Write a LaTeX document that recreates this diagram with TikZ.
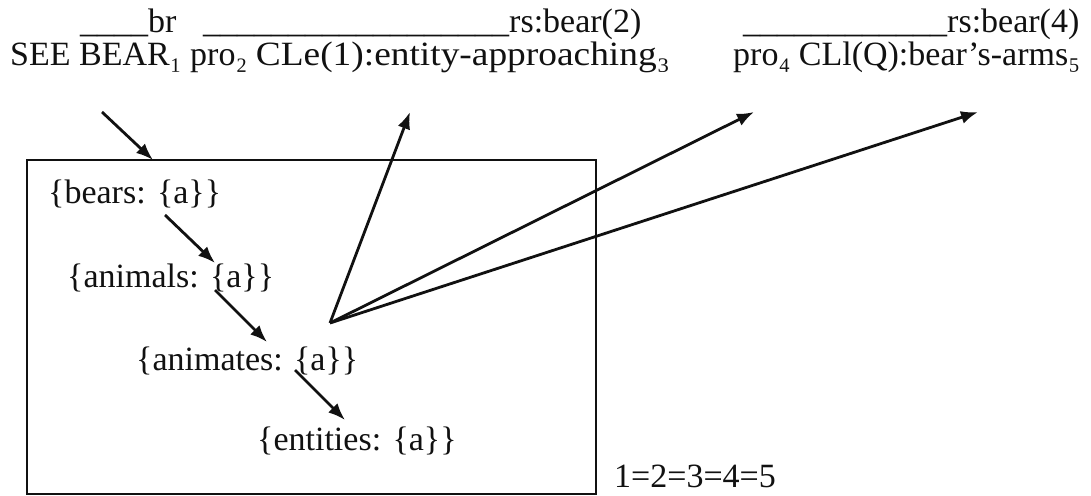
\documentclass[tikz,border=0pt]{standalone}
\usepackage{fontspec}
\setmainfont{Liberation Serif}
\usepackage{tikz}
\usetikzlibrary{arrows.meta}
\definecolor{Ink}{HTML}{111111}
\tikzset{
  gloss/.style={anchor=base west,inner sep=0pt,text=Ink,font=\fontsize{34}{40}\selectfont},
  setnode/.style={anchor=base west,inner sep=0pt,text=Ink,font=\fontsize{34}{40}\selectfont},
  frame/.style={draw=Ink,line width=2.4pt},
  link/.style={-{Latex[length=17pt,width=13pt]},draw=Ink,line width=2.8pt}
}
\newcommand{\blank}[1]{\foreach \k in {1,...,#1}{\_}}
\newcommand{\wide}[1]{{\addfontfeatures{FakeStretch=1.1}#1}}
\begin{document}
\begin{tikzpicture}[x=1pt,y=-1pt]
  \useasboundingbox (0,0) rectangle (1091,495);
  % glosses
  \node[gloss] (brline) at (80,33) {\blank{4}br};
  \node[gloss] (rsone) at (203,33) {\blank{18}rs:bear(2)};
  \node[gloss] (rstwo) at (743,33) {\blank{12}rs:bear(4)};
  \node[gloss] (signs) at (10,66) {SEE BEAR₁ pro₂ \wide{CLe(1):entity-approaching₃}};
  \node[gloss] (signsb) at (733,66) {pro₄ CLl(Q):bear’s-arms₅};
  % the frame and its sets
  \draw[frame] (27,160) rectangle (596,494);
  \node[setnode] (bears) at (48,203) {\{bears: \{a\}\}};
  \node[setnode] (animals) at (67,287) {\{animals: \{a\}\}};
  \node[setnode] (animates) at (136,370) {\{animates: \{a\}\}};
  \node[setnode] (entities) at (257,450) {\{entities: \{a\}\}};
  \node[gloss] (eq) at (614,487) {1=2=3=4=5};
  \coordinate (see) at (102,112);
  \coordinate (top) at (153,160);
  \coordinate (b1) at (165,215);
  \coordinate (b2) at (215,263);
  \coordinate (c1) at (215,290);
  \coordinate (c2) at (267,342);
  \coordinate (d1) at (295,370);
  \coordinate (d2) at (345,420);
  \coordinate (hub) at (330,323);
  \coordinate (cle) at (410,112);
  \coordinate (pro) at (754,112);
  \coordinate (arms) at (978,112);
  \draw[link] (see) -- (top);
  \draw[link] (b1) -- (b2);
  \draw[link] (c1) -- (c2);
  \draw[link] (d1) -- (d2);
  \draw[link] (hub) -- (cle);
  \draw[link] (hub) -- (pro);
  \draw[link] (hub) -- (arms);
\end{tikzpicture}
\end{document}
